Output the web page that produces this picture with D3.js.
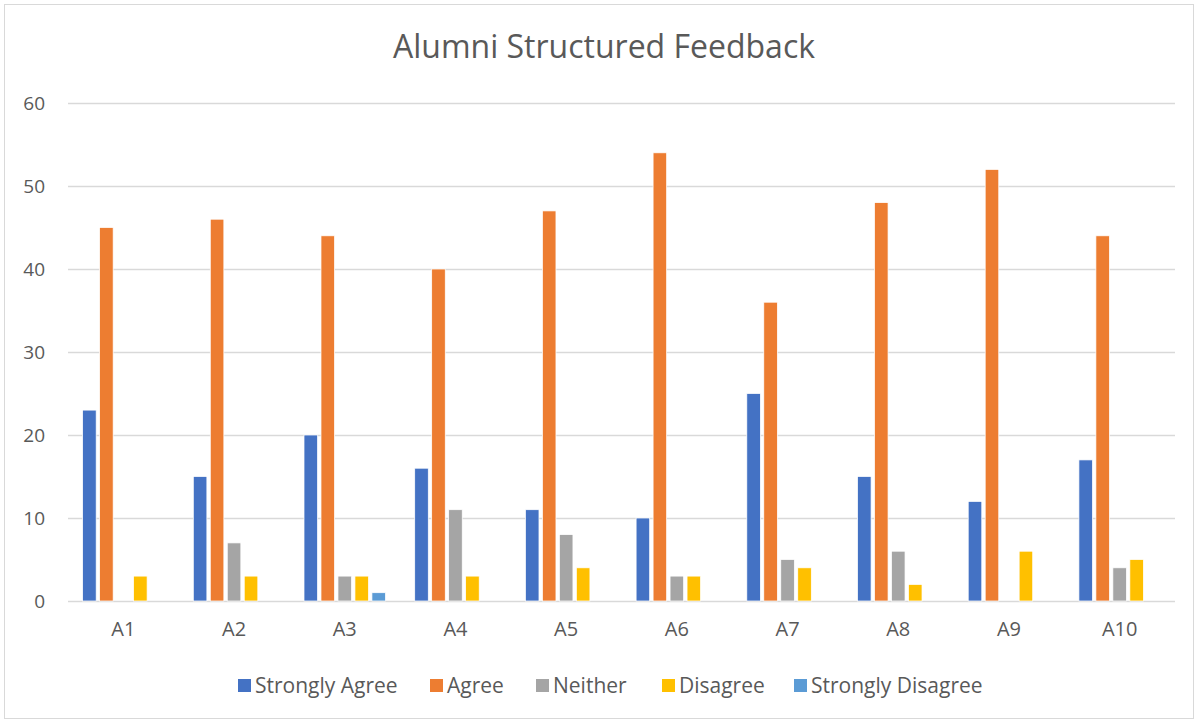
<!DOCTYPE html>
<html>
<head>
<meta charset="utf-8">
<script src="https://cdn.jsdelivr.net/npm/d3@7"></script>
<style>
  body { margin: 0; background: #fff; }
  text { font-family: "Open Sans", Carlito, Calibri, sans-serif; fill: #595959; }
</style>
</head>
<body>
<div id="chart"></div>
<script>
// data
var categories = ["A1", "A2", "A3", "A4", "A5", "A6", "A7", "A8", "A9", "A10"];
var series = ["Strongly Agree", "Agree", "Neither", "Disagree", "Strongly Disagree"];
var colors = ["#4472c4", "#ed7d31", "#a5a5a5", "#ffc000", "#5b9bd5"];
var stronglyAgree    = [23, 15, 20, 16, 11, 10, 25, 15, 12, 17];
var agree            = [45, 46, 44, 40, 47, 54, 36, 48, 52, 44];
var neither          = [0, 7, 3, 11, 8, 3, 5, 6, 0, 4];
var disagree         = [3, 3, 3, 3, 4, 3, 4, 2, 6, 5];
var stronglyDisagree = [0, 0, 1, 0, 0, 0, 0, 0, 0, 0];
var yTicks = [0, 10, 20, 30, 40, 50, 60];

var values = [stronglyAgree, agree, neither, disagree, stronglyDisagree];

var W = 1195, H = 722;
var margin = {top: 103, right: 20, bottom: 121, left: 68},
    width = 1175 - margin.left,
    height = 601 - margin.top;

var svg = d3.select("#chart")
  .append("svg")
    .attr("width", W)
    .attr("height", H);

// chart border
svg.append("rect")
  .attr("x", 4.5).attr("y", 4.5)
  .attr("width", W - 6).attr("height", H - 8)
  .attr("fill", "#fff")
  .attr("stroke", "#d9d9d9")
  .attr("stroke-width", 1);

// title
svg.append("text")
  .attr("x", 604).attr("y", 58)
  .attr("text-anchor", "middle")
  .style("font-size", "32px")
  .text("Alumni Structured Feedback");

var g = svg.append("g")
  .attr("transform", "translate(" + margin.left + "," + margin.top + ")");

var x0 = d3.scaleBand()
  .domain(categories)
  .range([0, width]);

var groupW = 81.5;
var x1 = d3.scaleBand()
  .domain(series)
  .range([(x0.bandwidth() - groupW) / 2, (x0.bandwidth() + groupW) / 2])
  .paddingInner(0.2);

var y = d3.scaleLinear()
  .domain([0, 60])
  .range([height, 0]);

// gridlines
g.append("g")
  .selectAll("line")
  .data(yTicks)
  .enter()
  .append("line")
    .attr("x1", 0).attr("x2", width)
    .attr("y1", function (d) { return Math.round(y(d)) + 0.5; })
    .attr("y2", function (d) { return Math.round(y(d)) + 0.5; })
    .attr("stroke", "#d9d9d9")
    .attr("stroke-width", 1.5);

// y axis labels
var yAxis = g.append("g")
  .call(d3.axisLeft(y).tickValues(yTicks).tickSize(0).tickPadding(23));
yAxis.select(".domain").remove();
yAxis.selectAll("text")
  .style("font-size", "19px")
  .style("font-family", null)
  .attr("fill", null);

// x axis labels
var xAxis = g.append("g")
  .attr("transform", "translate(0," + height + ")")
  .call(d3.axisBottom(x0).tickSize(0).tickPadding(21));
xAxis.select(".domain").remove();
xAxis.selectAll("text")
  .style("font-size", "20px")
  .style("font-family", null)
  .attr("fill", null);

// bars
var rows = categories.map(function (c, i) {
  return series.map(function (s, j) { return {cat: c, key: s, idx: j, value: values[j][i]}; });
});

g.append("g")
  .selectAll("g")
  .data(rows)
  .enter()
  .append("g")
    .attr("transform", function (d, i) { return "translate(" + x0(categories[i]) + ",0)"; })
  .selectAll("rect")
  .data(function (d) { return d.filter(function (e) { return e.value > 0; }); })
  .enter()
  .append("rect")
    .attr("x", function (d) { return x1(d.key); })
    .attr("y", function (d) { return y(d.value); })
    .attr("width", x1.bandwidth())
    .attr("height", function (d) { return height - y(d.value); })
    .attr("fill", function (d) { return colors[d.idx]; })
    .attr("stroke", "#fff")
    .attr("stroke-width", 0.75);

// legend
var legendX = [238, 430, 536, 662, 794];
var legend = svg.append("g")
  .selectAll("g")
  .data(series)
  .enter()
  .append("g")
    .attr("transform", function (d, i) { return "translate(" + legendX[i] + ",679)"; });

legend.append("rect")
  .attr("width", 13).attr("height", 13)
  .attr("fill", function (d, i) { return colors[i]; });

legend.append("text")
  .attr("x", 17).attr("y", 14)
  .style("font-size", "21px")
  .text(function (d) { return d; });
</script>
</body>
</html>
